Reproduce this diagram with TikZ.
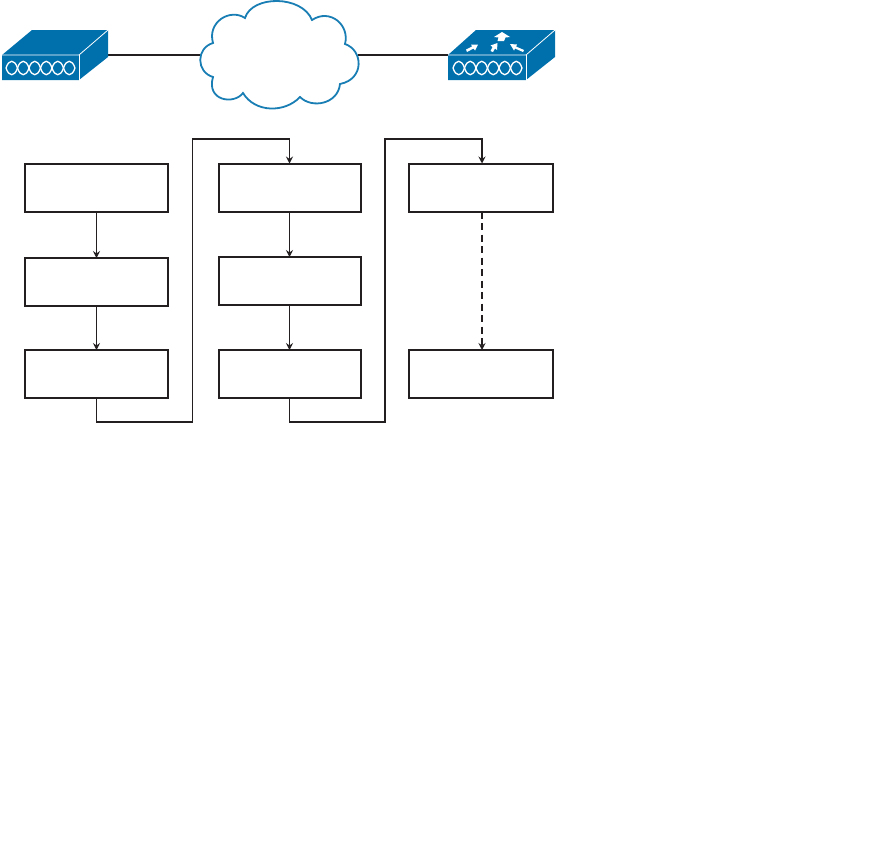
\documentclass[tikz,border=0pt]{standalone}
\usetikzlibrary{arrows.meta}
\definecolor{devblue}{HTML}{0070AC}
\definecolor{ink}{HTML}{231F20}
\tikzset{
  flowbox/.style={draw=ink,line width=2pt,minimum width=142.5pt,minimum height=48pt,inner sep=0pt,outer sep=0pt,anchor=north west},
  flowline/.style={draw=ink,line width=1.2pt},
  flowarrow/.style={flowline,line width=0.8pt,-{Stealth[length=7pt,width=7pt,inset=2.5pt]}},
  linkline/.style={draw=ink,line width=1.5pt},
  devbody/.style={fill=devblue,draw=none},
  devedge/.style={draw=white,line width=0.8pt},
  helix/.style={draw=white,line width=1.3pt},
  updir/.style={fill=white,draw=none},
  cloudline/.style={draw=devblue!90!white,line width=1.8pt,fill=white}
}
\newcommand{\helixat}[2]{%
  \begin{scope}[shift={(#1,#2)}]
    \foreach \k in {0,1,2,3,4,5}{
      \draw[helix] (\k*11.5,0) .. controls (\k*11.5+3,-9) and (\k*11.5+8.5,-9) .. (\k*11.5+11.5,0)
                   .. controls (\k*11.5+8.5,9) and (\k*11.5+3,9) .. (\k*11.5,0);
    }
  \end{scope}}
\begin{document}
\begin{tikzpicture}[x=1pt,y=-1pt]
\useasboundingbox (0,0) rectangle (881,865);
\coordinate (devLeftEnd) at (108,55);
\coordinate (cloudLeft) at (203,55);
\coordinate (cloudRight) at (358,55);
\coordinate (devRightEnd) at (448,55);
\draw[linkline] (devLeftEnd) -- (cloudLeft);
\draw[linkline] (cloudRight) -- (devRightEnd);
% left device
\fill[devbody] (2,55) -- (32,30) -- (108,30) -- (108,57) -- (79,80) -- (2,80) -- cycle;
\draw[devedge] (2,55) -- (79,55) -- (108,30);
\draw[devedge] (79,55) -- (79,80);
\helixat{6}{68}
% right device
\fill[devbody] (448,55) -- (476,30) -- (555,30) -- (555,57) -- (526,80) -- (448,80) -- cycle;
\draw[devedge] (448,55) -- (526,55) -- (555,30);
\draw[devedge] (526,55) -- (526,80);
\helixat{453}{68}
\fill[updir] (502,32) -- (510,37) -- (505.5,37.5) -- (504,41) -- (497.5,41) -- (498.5,37.5) -- (494,37) -- cycle;
\fill[updir] (478,44.5) -- (475,50.5) -- (473.5,48.5) -- (467,52) -- (466,49.5) -- (472,46.5) -- (471,44.5) -- cycle;
\fill[updir] (497.5,43) -- (497,50) -- (495,48.5) -- (493,52) -- (490.5,51) -- (492.5,47) -- (490.5,45.5) -- cycle;
\fill[updir] (510,44) -- (517,44.5) -- (516,46.5) -- (524,50) -- (523,52) -- (515,48.5) -- (514,50.5) -- cycle;
% cloud
\draw[cloudline,line join=miter] (213,43)
  .. controls (207,22) and (230,8) .. (245,18)
  .. controls (252,-5) and (302,-5) .. (312,20)
  .. controls (330,8) and (350,25) .. (345,44)
  .. controls (363,50) and (365,79) .. (340,84)
  .. controls (338,104) and (312,109) .. (300,97)
  .. controls (285,113) and (255,113) .. (243,93)
  .. controls (234,105) and (206,101) .. (213,77)
  .. controls (196,72) and (196,48) .. (213,43) -- cycle;
% boxes
\node[flowbox] (a1) at (25,163.5) {};
\node[flowbox] (a2) at (25,258) {};
\node[flowbox] (a3) at (25,350) {};
\node[flowbox] (b1) at (218.5,163.5) {};
\node[flowbox] (b2) at (218.5,257) {};
\node[flowbox] (b3) at (218.5,350) {};
\node[flowbox,minimum width=144pt] (c1) at (408.5,163.5) {};
\node[flowbox,minimum width=144pt] (c2) at (408.5,350) {};
% connectors
\draw[flowarrow] (a1.south -| 96.5,0) -- (a2.north -| 96.5,0);
\draw[flowarrow] (a2.south -| 96.5,0) -- (a3.north -| 96.5,0);
\draw[flowarrow] (b1.south -| 289.5,0) -- (b2.north -| 289.5,0);
\draw[flowarrow] (b2.south -| 289.5,0) -- (b3.north -| 289.5,0);
\draw[flowline,-{Stealth[length=7pt,width=7pt,inset=2.5pt]}] (a3.south -| 96.5,0) -- (96.5,422) -- (192.5,422) -- (192.5,139) -- (289.5,139) -- (b1.north -| 289.5,0);
\draw[flowline,-{Stealth[length=7pt,width=7pt,inset=2.5pt]}] (b3.south -| 289.5,0) -- (289.5,422) -- (385,422) -- (385,139) -- (482,139) -- (c1.north -| 482,0);
\draw[flowline,dashed,dash pattern=on 7pt off 4.5pt,-{Stealth[length=7pt,width=7pt,inset=2.5pt]}] (c1.south -| 482,0) -- (c2.north -| 482,0);
\end{tikzpicture}
\end{document}
